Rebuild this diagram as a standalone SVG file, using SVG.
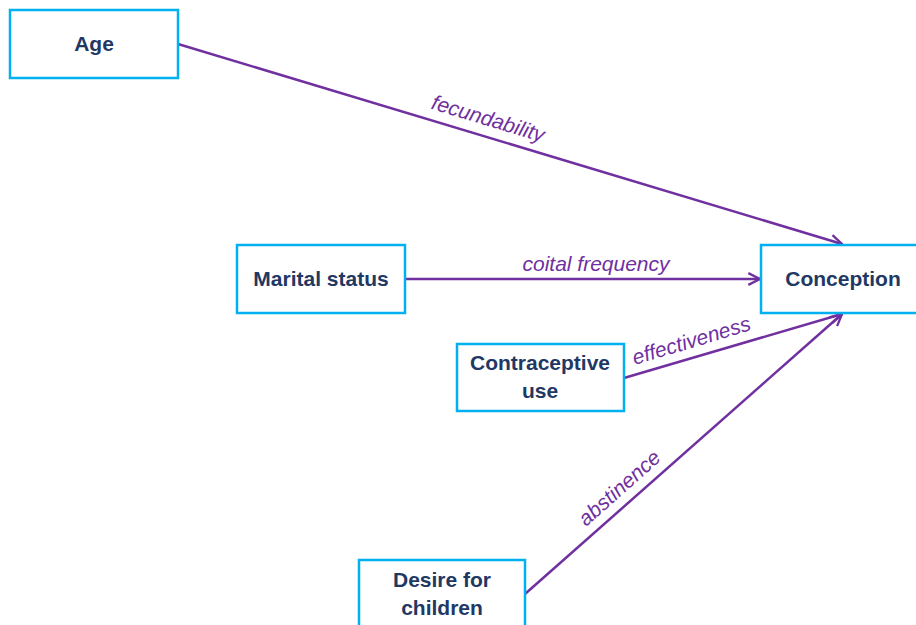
<svg xmlns="http://www.w3.org/2000/svg" width="916" height="625" viewBox="0 0 916 625">
  <style>
    .box { fill: #ffffff; stroke: #00B0F0; stroke-width: 2.5; }
    .name { font-family: "Liberation Sans", Arial, sans-serif; font-weight: bold; font-size: 21px; fill: #1F3864; text-anchor: middle; }
    .edge { stroke: #7030A0; stroke-width: 2.5; fill: none; marker-end: url(#arrow); }
    .lbl { font-family: "Liberation Sans", Arial, sans-serif; font-style: italic; font-size: 21px; fill: #7030A0; text-anchor: middle; }
  </style>
  <defs>
    <marker id="arrow" viewBox="0 0 12 12" refX="11" refY="6" markerWidth="14" markerHeight="14" markerUnits="userSpaceOnUse" orient="auto">
      <path d="M1,1 L11,6 L1,11" fill="none" stroke="#7030A0" stroke-width="2"/>
    </marker>
  </defs>
  <rect width="916" height="625" fill="#ffffff"/>

  <g id="connectors">
    <line class="edge" x1="178" y1="44" x2="842" y2="244"/>
    <line class="edge" x1="405" y1="279" x2="760" y2="279"/>
    <line class="edge" x1="624" y1="378" x2="842" y2="314"/>
    <line class="edge" x1="525" y1="594" x2="842" y2="314"/>
    <text class="lbl" transform="translate(483,136) rotate(16.8)" y="-11">fecundability</text>
    <text class="lbl" x="596" y="271">coital frequency</text>
    <text class="lbl" transform="translate(696,356) rotate(-16.6)" y="-9">effectiveness</text>
    <text class="lbl" transform="translate(630,500) rotate(-41.6)" y="-9">abstinence</text>
  </g>

  <g id="age">
    <rect class="box" x="10" y="10" width="168" height="68"/>
    <text class="name" x="94" y="51">Age</text>
  </g>
  <g id="marital-status">
    <rect class="box" x="237" y="245" width="168" height="68"/>
    <text class="name" x="321" y="286">Marital status</text>
  </g>
  <g id="conception">
    <rect class="box" x="761" y="245" width="170" height="68"/>
    <text class="name" x="843" y="286">Conception</text>
  </g>
  <g id="contraceptive-use">
    <rect class="box" x="457" y="344" width="167" height="67"/>
    <text class="name" x="540" y="370">Contraceptive</text>
    <text class="name" x="540" y="398">use</text>
  </g>
  <g id="desire-for-children">
    <rect class="box" x="359" y="560" width="166" height="80"/>
    <text class="name" x="442" y="587">Desire for</text>
    <text class="name" x="442" y="615">children</text>
  </g>
</svg>
